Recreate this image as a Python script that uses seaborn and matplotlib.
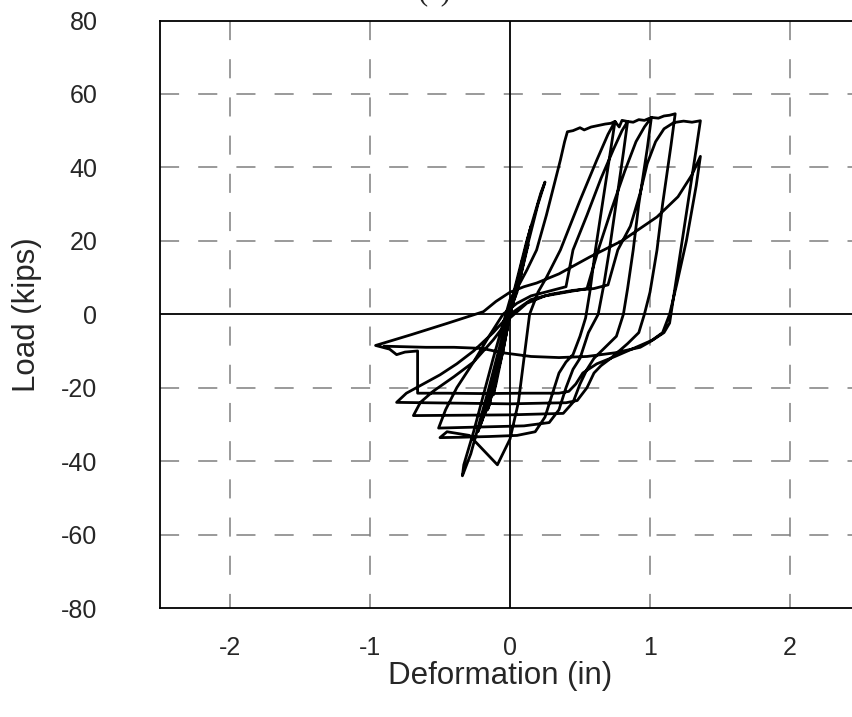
import numpy as np
import pandas as pd
import seaborn as sns
import matplotlib
matplotlib.use('Agg')
import matplotlib.pyplot as plt

# Load path, cycle by cycle (deformation in, load kips)
elastic1_x = [0.00, 0.03, 0.06, 0.04, -0.02, -0.08, -0.12, -0.10, -0.04, 0.00]
elastic1_y = [0.0, 6.0, 10.0, 7.0, -4.0, -14.0, -22.0, -19.0, -8.0, 0.0]
elastic2_x = [0.02, 0.06, 0.09, 0.07, 0.00, -0.10, -0.16, -0.13, -0.05, 0.01]
elastic2_y = [3.0, 10.0, 15.0, 11.0, 0.0, -17.0, -26.0, -22.0, -10.0, 2.0]
elastic3_x = [0.05, 0.10, 0.15, 0.13, 0.05, -0.08, -0.20, -0.23, -0.19, -0.08, 0.02]
elastic3_y = [6.0, 15.0, 24.0, 21.0, 8.0, -12.0, -29.0, -32.0, -28.0, -12.0, 4.0]
elastic4_x = [0.03, 0.08, 0.13, 0.11, 0.02, -0.06, -0.14, -0.18, -0.15, -0.06, 0.04]
elastic4_y = [4.0, 11.0, 19.0, 17.0, 3.0, -9.0, -20.0, -27.0, -25.0, -8.0, 7.0]
elastic5_x = [0.06, 0.12, 0.20, 0.25, 0.22, 0.12, 0.00, -0.15, -0.28, -0.34, -0.33, -0.26, -0.12, 0.00]
elastic5_y = [8.0, 18.0, 30.0, 36.0, 33.0, 20.0, 2.0, -20.0, -38.0, -44.0, -41.0, -32.0, -12.0, 4.0]

cycle1_x = [0.05, 0.12, 0.19, 0.26, 0.32, 0.36, 0.39, 0.41, 0.45, 0.50, 0.53, 0.58, 0.63, 0.68, 0.72, 0.75,
            0.72, 0.66, 0.61, 0.57, 0.54, 0.50, 0.45, 0.40, 0.35, 0.30, 0.25, 0.18, 0.05, -0.15, -0.35, -0.50,
            -0.45, -0.29, -0.09, 0.00, 0.06, 0.10, 0.14, 0.20]
cycle1_y = [7.0, 12.0, 17.5, 27.0, 36.0, 42.0, 47.0, 49.7, 50.0, 50.8, 50.2, 51.0, 51.4, 51.8, 52.0, 52.5,
            45.0, 30.0, 17.5, 6.0, -1.0, -6.0, -11.0, -13.0, -16.0, -22.0, -28.0, -32.0, -33.0, -33.3, -33.5, -33.6,
            -32.0, -33.0, -41.0, -34.0, -24.0, -12.0, 0.0, 6.0]

cycle2_x = [0.26, 0.36, 0.50, 0.62, 0.70, 0.75, 0.78, 0.80, 0.84,
            0.81, 0.75, 0.71, 0.67, 0.63, 0.56, 0.50, 0.45, 0.40, 0.35, 0.28, 0.10, -0.10, -0.30, -0.51,
            -0.46, -0.38, -0.26, -0.15, -0.05, 0.05, 0.15, 0.30, 0.40]
cycle2_y = [10.0, 17.5, 31.0, 42.0, 49.0, 52.5, 51.0, 52.8, 52.5,
            44.0, 28.0, 17.5, 8.0, 0.0, -5.0, -12.0, -15.0, -20.0, -26.0, -29.5, -30.4, -30.6, -30.8, -31.0,
            -26.0, -20.0, -13.0, -6.0, 0.0, 3.0, 5.0, 6.5, 7.5]

cycle3_x = [0.45, 0.55, 0.65, 0.74, 0.80, 0.84, 0.88, 0.92, 0.96, 1.01,
            0.98, 0.92, 0.88, 0.84, 0.81, 0.76, 0.68, 0.60, 0.55, 0.50, 0.45, 0.38, 0.20, 0.00, -0.30, -0.69,
            -0.64, -0.55, -0.40, -0.26, -0.12, 0.00, 0.12, 0.25, 0.40, 0.55]
cycle3_y = [17.5, 27.0, 37.0, 45.0, 50.0, 52.5, 52.3, 53.0, 52.8, 53.6,
            45.0, 30.0, 17.5, 7.0, 0.0, -6.0, -9.0, -12.0, -15.0, -19.0, -24.0, -27.0, -27.2, -27.4, -27.5, -27.6,
            -24.0, -21.0, -17.0, -13.0, -7.0, -1.0, 3.0, 5.0, 6.0, 7.0]

cycle4_x = [0.63, 0.72, 0.82, 0.90, 0.96, 1.01, 1.06, 1.10, 1.14, 1.18,
            1.15, 1.09, 1.05, 1.00, 0.96, 0.92, 0.84, 0.72, 0.65, 0.60, 0.55, 0.48, 0.40, 0.25, 0.00, -0.40, -0.81,
            -0.74, -0.62, -0.50, -0.38, -0.26, -0.12, 0.00, 0.15, 0.30, 0.45, 0.60, 0.70]
cycle4_y = [17.5, 28.0, 39.0, 47.0, 51.0, 53.6, 53.4, 54.0, 54.2, 54.6,
            46.0, 30.0, 17.5, 6.0, 0.0, -5.0, -8.0, -12.0, -14.0, -16.0, -20.0, -23.5, -24.1, -24.2, -24.4, -24.2, -24.0,
            -21.5, -19.0, -16.5, -13.5, -10.0, -5.0, 0.0, 4.0, 5.5, 6.5, 7.0, 8.0]

cycle5_x = [0.77, 0.86, 0.93, 0.98, 1.04, 1.10, 1.17, 1.24, 1.30, 1.36,
            1.33, 1.27, 1.22, 1.17, 1.14, 1.10, 1.02, 0.90, 0.75, 0.62, 0.52, 0.47, 0.42, 0.35, 0.10, -0.20,
            -0.45, -0.66, -0.66, -0.75, -0.81, -0.86, -0.96]
cycle5_y = [17.5, 24.0, 33.0, 41.0, 47.0, 50.5, 52.2, 52.6, 52.3, 52.7,
            45.0, 30.0, 17.5, 5.0, -2.4, -5.0, -7.0, -9.0, -11.5, -13.5, -16.0, -19.0, -21.0, -21.5, -21.5, -21.6,
            -21.5, -21.5, -10.0, -10.3, -11.0, -9.5, -8.5]

final_x = [-0.70, -0.45, -0.19, -0.10, 0.00, 0.10, 0.19, 0.35, 0.57, 0.80, 1.05, 1.20, 1.30, 1.36,
           1.33, 1.26, 1.19, 1.14, 1.09, 1.00, 0.93, 0.75, 0.55, 0.35, 0.15, -0.05, -0.20, -0.40, -0.60,
           -0.80, -0.90]
final_y = [-5.5, -2.5, 0.7, 3.5, 6.0, 7.5, 8.5, 11.0, 15.6, 20.0, 26.5, 32.0, 38.0, 43.0,
           35.0, 20.0, 8.0, 0.0, -5.0, -7.5, -9.0, -10.5, -11.5, -11.8, -11.5, -10.5, -9.3, -9.0, -9.0,
           -8.8, -8.7]

x_ticks = [-2, -1, 0, 1, 2]
y_ticks = [-80, -60, -40, -20, 0, 20, 40, 60, 80]

cycles = [(elastic1_x, elastic1_y), (elastic2_x, elastic2_y), (elastic3_x, elastic3_y),
          (elastic4_x, elastic4_y), (elastic5_x, elastic5_y), (cycle1_x, cycle1_y),
          (cycle2_x, cycle2_y), (cycle3_x, cycle3_y), (cycle4_x, cycle4_y),
          (cycle5_x, cycle5_y), (final_x, final_y)]
df = pd.DataFrame({'Deformation': np.concatenate([c[0] for c in cycles]),
                   'Load': np.concatenate([c[1] for c in cycles])})

sns.set_style('white')
plt.rcParams['font.family'] = ['Liberation Sans', 'DejaVu Sans']
plt.rcParams['axes.unicode_minus'] = False

fig = plt.figure(figsize=(8.52, 7.17), dpi=100)
# axes run past the right edge of the picture, as in the reference
ax = fig.add_axes([160 / 852, 109 / 717, 700 / 852, 587.5 / 717])

# dashed grid + solid zero lines
for xv in x_ticks:
    if xv == 0:
        ax.axvline(0, color='black', lw=1.3, zorder=2)
    else:
        ax.axvline(xv, ymin=1, ymax=0, color='#7f7f7f', lw=1.1, ls=(0, (12.5, 12.5)), zorder=1)
for yv in y_ticks[1:-1]:
    if yv == 0:
        ax.axhline(0, color='black', lw=1.3, zorder=2)
    else:
        ax.axhline(yv, color='#7f7f7f', lw=1.1, ls=(0, (12.5, 12.5)), zorder=1)

sns.lineplot(data=df, x='Deformation', y='Load', sort=False, estimator=None,
             color='black', lw=2.0, ax=ax, zorder=3)

ax.set_xlim(-2.5, 2.5)
ax.set_ylim(-80, 80)
ax.set_xticks(x_ticks)
ax.set_yticks(y_ticks)
ax.tick_params(axis='both', length=0, labelsize=18)
ax.tick_params(axis='x', pad=20)
ax.tick_params(axis='y', pad=45)
for s in ax.spines.values():
    s.set_color('black')
    s.set_linewidth(1.3)

ax.set_xlabel('Deformation (in)', fontsize=22.5)
ax.set_ylabel('Load (kips)', fontsize=22.5)
ax.xaxis.set_label_coords(0.486, -0.09)
ax.yaxis.set_label_coords(-0.168, 0.5)

# title sits mostly above the picture; only the bottom of the brackets shows
fig.text(435 / 852, 1 + 1 / 717, '(a)', ha='center', va='baseline', fontsize=22,
         family='Liberation Serif')

fig.savefig('out.png', dpi=100)
